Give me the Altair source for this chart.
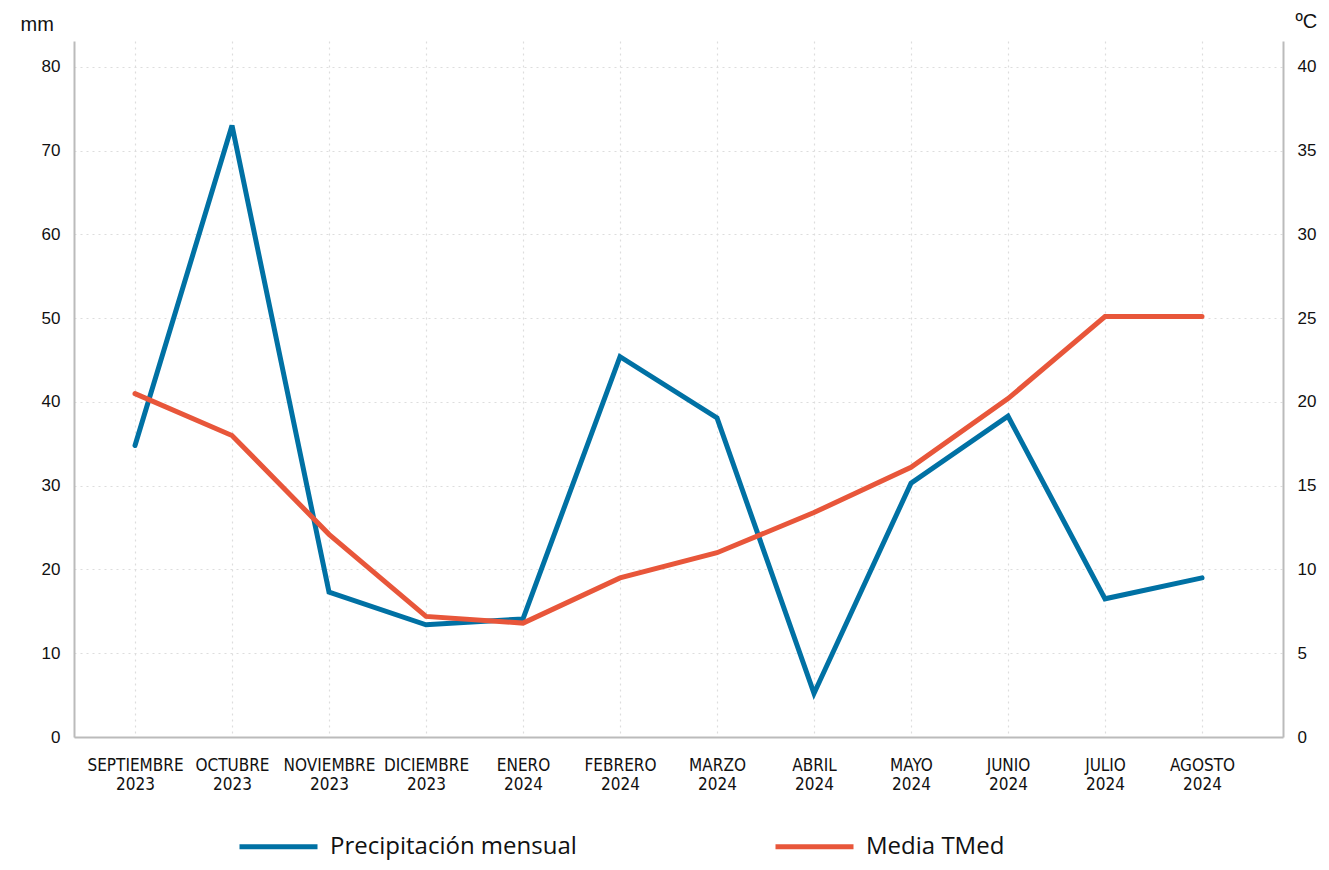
import altair as alt
import pandas as pd
import json

months = ["SEPTIEMBRE", "OCTUBRE", "NOVIEMBRE", "DICIEMBRE", "ENERO", "FEBRERO",
          "MARZO", "ABRIL", "MAYO", "JUNIO", "JULIO", "AGOSTO"]
years = ["2023", "2023", "2023", "2023", "2024", "2024",
         "2024", "2024", "2024", "2024", "2024", "2024"]
precip = [34.8, 73.0, 17.3, 13.4, 14.1, 45.4, 38.1, 5.2, 30.3, 38.3, 16.5, 19.0]
tmed = [20.5, 18.0, 12.1, 7.2, 6.8, 9.5, 11.0, 13.4, 16.1, 20.2, 25.1, 25.1]

S1 = "Precipitación mensual"
S2 = "Media TMed"

idx = list(range(len(months)))
df1 = pd.DataFrame({"i": idx, "v": precip, "serie": S1})
df2 = pd.DataFrame({"i": idx, "v": tmed, "serie": S2})

label_expr = "[" + json.dumps(months) + "[datum.value], " + json.dumps(years) + "[datum.value]]"

FONT = "Liberation Sans"
LEGFONT = "Open Sans"
NARROW = "Liberation Sans Narrow, DejaVu Sans Condensed, Roboto Condensed, sans-serif"

x = alt.X("i:Q",
          scale=alt.Scale(domain=[-0.629, 11.835], nice=False, zero=False),
          axis=alt.Axis(values=idx, labelExpr=label_expr, title=None,
                        grid=True, gridColor="#dddddd", gridDash=[2, 4], gridWidth=1.2,
                        ticks=False, domainColor="#bbbbbb", domainWidth=2,
                        labelFont=NARROW, labelFontSize=17, labelColor="#111111",
                        labelPadding=20, labelLineHeight=19))

color = alt.Color("serie:N",
                  scale=alt.Scale(domain=[S1, S2], range=["#0071a4", "#e8563a"]),
                  legend=alt.Legend(title=None, orient="none", legendX=163, legendY=764,
                                    direction="horizontal", symbolType="stroke",
                                    symbolSize=6084, symbolStrokeWidth=5,
                                    labelFont=LEGFONT, labelFontSize=24, labelColor="#111111",
                                    labelOffset=10, columnPadding=188, labelLimit=400))

left = alt.Chart(df1).mark_line(strokeWidth=5, strokeCap="round", strokeJoin="miter").encode(
    x=x,
    y=alt.Y("v:Q", scale=alt.Scale(domain=[0, 83.1], nice=False),
            axis=alt.Axis(values=[0, 10, 20, 30, 40, 50, 60, 70, 80], orient="left",
                          title="mm", titleAngle=0, titleX=-54, titleY=-11,
                          titleAlign="left", titleBaseline="alphabetic",
                          titleFont=FONT, titleFontSize=20, titleFontWeight="normal",
                          titleColor="#111111",
                          grid=True, gridColor="#dddddd", gridDash=[2, 4], gridWidth=1.2,
                          ticks=False, domainColor="#bbbbbb", domainWidth=2,
                          labelFont=FONT, labelFontSize=17, labelColor="#111111",
                          labelPadding=14)),
    color=color,
)

right = alt.Chart(df2).mark_line(strokeWidth=5, strokeCap="round", strokeJoin="miter").encode(
    x=x,
    y=alt.Y("v:Q", scale=alt.Scale(domain=[0, 41.55], nice=False),
            axis=alt.Axis(values=[0, 5, 10, 15, 20, 25, 30, 35, 40], orient="right",
                          title="ºC", titleAngle=0, titleX=12, titleY=-14,
                          titleAlign="left", titleBaseline="alphabetic",
                          titleFont=FONT, titleFontSize=20, titleFontWeight="normal",
                          titleColor="#111111",
                          grid=False, ticks=False, domainColor="#bbbbbb", domainWidth=2,
                          labelFont=FONT, labelFontSize=17, labelColor="#111111",
                          labelPadding=14)),
    color=color,
)

chart = alt.layer(left, right).resolve_scale(y="independent").properties(
    width=1209, height=696,
    background="white",
    autosize=alt.AutoSizeParams(type="none"),
    padding={"left": 66, "top": 33, "right": 38, "bottom": 125},
).configure_view(stroke=None)

chart.save("out.html", embed_options={"renderer": "svg", "actions": False})
